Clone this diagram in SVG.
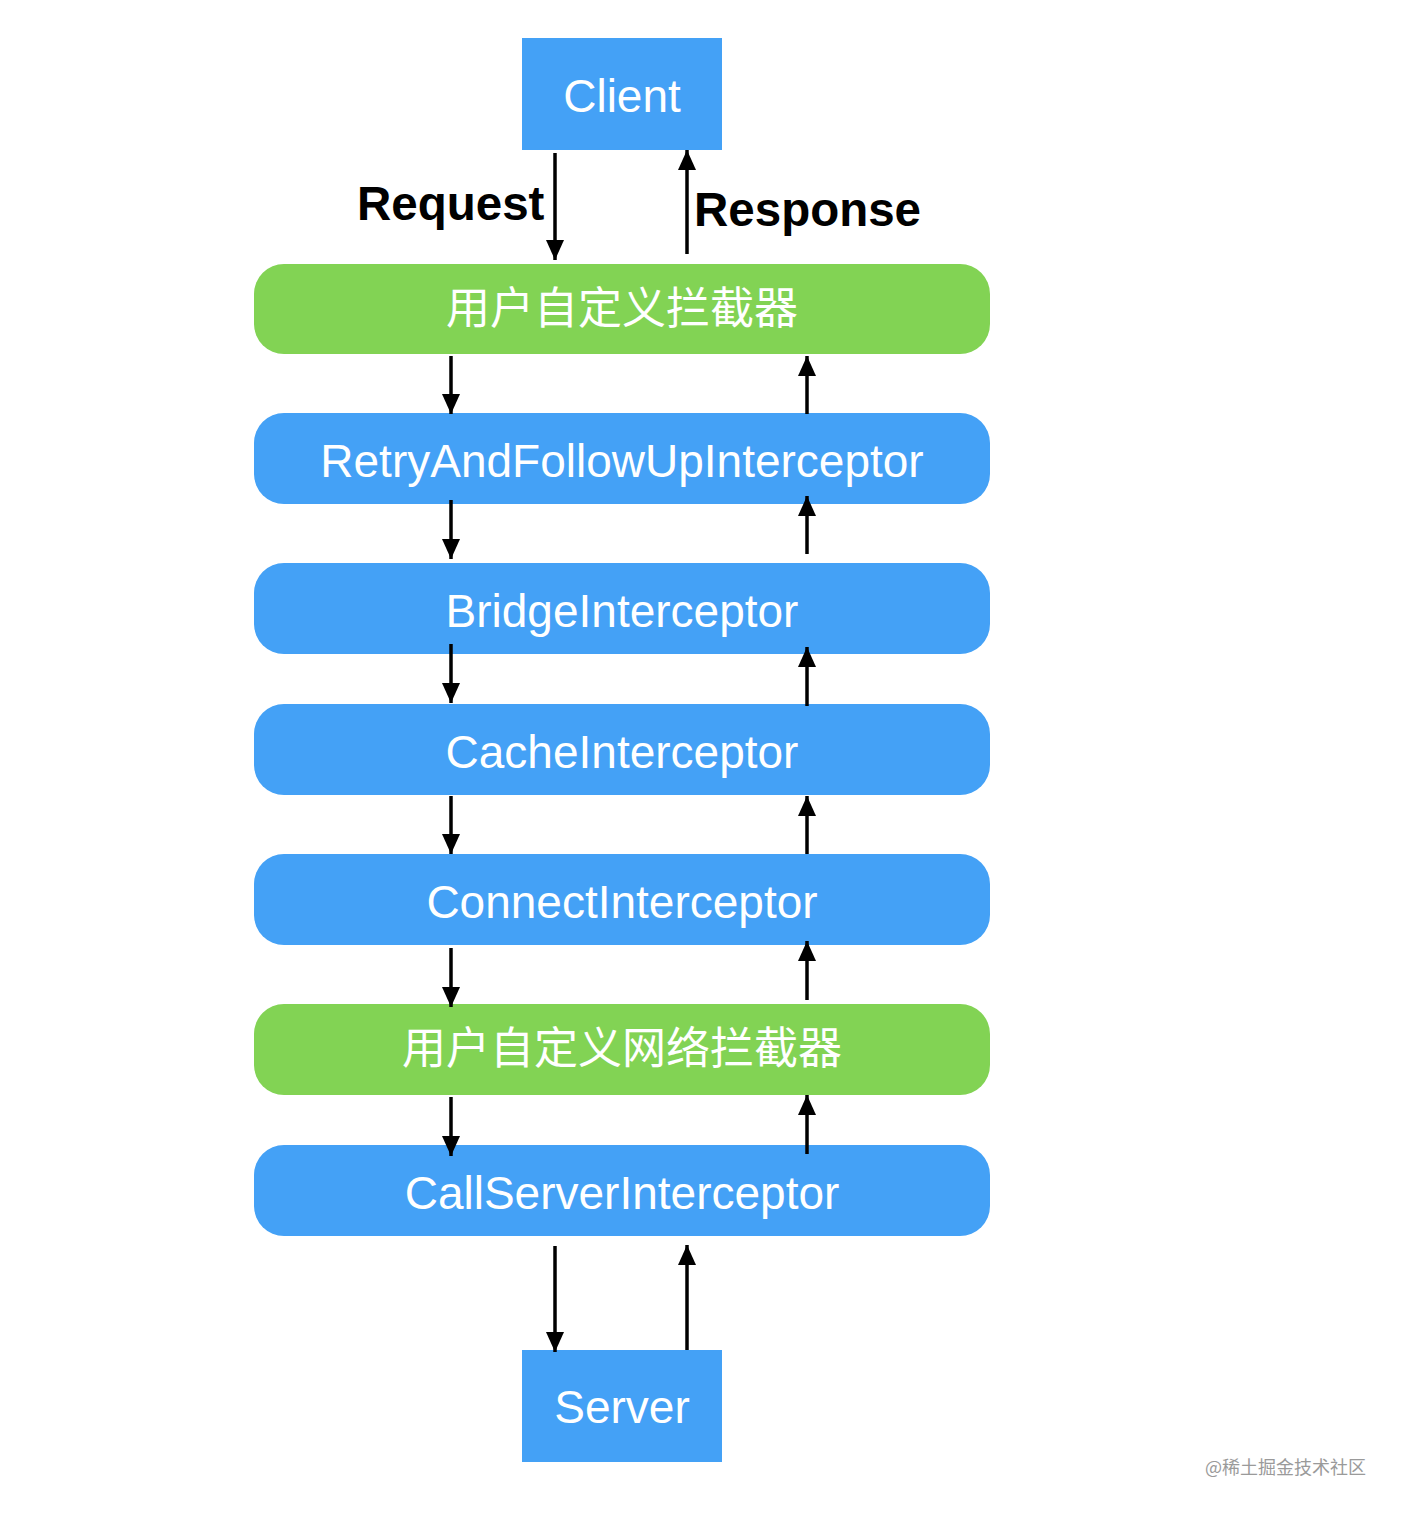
<svg xmlns="http://www.w3.org/2000/svg" width="1402" height="1514" viewBox="0 0 1402 1514">
<defs>
<marker id="ah" viewBox="0 0 20 18" refX="20" refY="9" markerWidth="20" markerHeight="18" markerUnits="userSpaceOnUse" orient="auto-start-reverse">
<path d="M0,0 L20,9 L0,18 Z" fill="#000"/>
</marker>
<style>
.blue{fill:#44a1f6}
.green{fill:#82d354}
.t{font-family:"Liberation Sans",Arial,sans-serif;font-size:46px;fill:#fff;text-anchor:middle}
.cn{font-family:"Noto Sans CJK SC","Liberation Sans",sans-serif;font-size:44px;fill:#fff;text-anchor:middle}
.lbl{font-family:"Liberation Sans",Arial,sans-serif;font-size:47.5px;font-weight:bold;fill:#000}
.ln{stroke:#000;stroke-width:3.5;fill:none}
.dn{marker-end:url(#ah)}
.up{marker-start:url(#ah)}
</style>
</defs>
<rect width="1402" height="1514" fill="#fff"/>
<g id="client"><rect class="blue" x="522" y="38" width="200" height="112"/><text class="t" x="622" y="112">Client</text></g>
<g id="user-interceptor"><rect class="green" x="254" y="264" width="736" height="90" rx="30"/><text class="cn" x="622" y="324">用户自定义拦截器</text></g>
<g id="retry"><rect class="blue" x="254" y="413" width="736" height="91" rx="30"/><text class="t" x="622" y="477">RetryAndFollowUpInterceptor</text></g>
<g id="bridge"><rect class="blue" x="254" y="563" width="736" height="91" rx="30"/><text class="t" x="622" y="627">BridgeInterceptor</text></g>
<g id="cache"><rect class="blue" x="254" y="704" width="736" height="91" rx="30"/><text class="t" x="622" y="768">CacheInterceptor</text></g>
<g id="connect"><rect class="blue" x="254" y="854" width="736" height="91" rx="30"/><text class="t" x="622" y="918">ConnectInterceptor</text></g>
<g id="network-interceptor"><rect class="green" x="254" y="1004" width="736" height="91" rx="30"/><text class="cn" x="622" y="1064">用户自定义网络拦截器</text></g>
<g id="callserver"><rect class="blue" x="254" y="1145" width="736" height="91" rx="30"/><text class="t" x="622" y="1209">CallServerInterceptor</text></g>
<g id="server"><rect class="blue" x="522" y="1350" width="200" height="112"/><text class="t" x="622" y="1423">Server</text></g>
<g id="connectors">
<line class="ln dn" x1="555" y1="153" x2="555" y2="260"/>
<line class="ln up" x1="687" y1="150" x2="687" y2="254"/>
<line class="ln dn" x1="451" y1="356" x2="451" y2="414"/>
<line class="ln up" x1="807" y1="356" x2="807" y2="414"/>
<line class="ln dn" x1="451" y1="500" x2="451" y2="559"/>
<line class="ln up" x1="807" y1="496" x2="807" y2="554"/>
<line class="ln dn" x1="451" y1="644" x2="451" y2="703"/>
<line class="ln up" x1="807" y1="647" x2="807" y2="706"/>
<line class="ln dn" x1="451" y1="796" x2="451" y2="854"/>
<line class="ln up" x1="807" y1="796" x2="807" y2="854"/>
<line class="ln dn" x1="451" y1="948" x2="451" y2="1007"/>
<line class="ln up" x1="807" y1="941" x2="807" y2="1000"/>
<line class="ln dn" x1="451" y1="1097" x2="451" y2="1156"/>
<line class="ln up" x1="807" y1="1095" x2="807" y2="1154"/>
<line class="ln dn" x1="555" y1="1246" x2="555" y2="1352"/>
<line class="ln up" x1="687" y1="1245" x2="687" y2="1350"/>
</g>
<text class="lbl" x="357" y="220">Request</text>
<text class="lbl" x="694" y="226">Response</text>
<text x="1205" y="1474" style="font-family:'Noto Sans CJK SC','Liberation Sans',sans-serif;font-size:18px;fill:#9a9a9a">@稀土掘金技术社区</text>
</svg>
